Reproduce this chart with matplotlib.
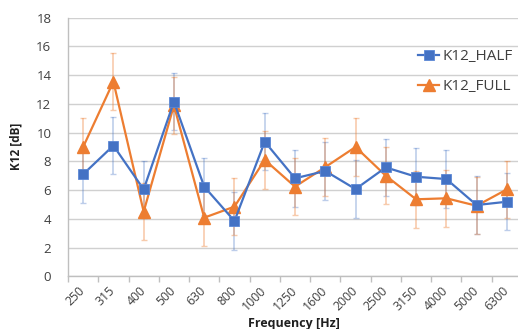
import matplotlib
matplotlib.use("Agg")
import matplotlib.pyplot as plt
import numpy as np

plt.rcParams['font.family'] = ['Open Sans', 'DejaVu Sans']

categories = ["250", "315", "400", "500", "630", "800", "1000", "1250", "1600",
              "2000", "2500", "3150", "4000", "5000", "6300"]
half_vals = [7.1, 9.1, 6.05, 12.15, 6.24, 3.85, 9.37, 6.82, 7.33, 6.07, 7.58, 6.93, 6.77, 4.96, 5.19]
full_vals = [9.0, 13.55, 4.5, 11.9, 4.08, 4.85, 8.1, 6.24, 7.6, 9.0, 7.0, 5.36, 5.43, 4.91, 6.05]
half_err = [2.0] * 15
full_err = [2.0] * 15

blue = '#4472C4'
orange = '#ED7D31'

fig = plt.figure(figsize=(5.18, 3.29), dpi=100)
ax = fig.add_axes([68/518, 1 - 276.3/329, (522-68)/518, (276.3-17.7)/329])

x = np.arange(len(categories))

# error bars
ax.errorbar(x, half_vals, yerr=half_err, fmt='none', ecolor=blue, alpha=0.35,
            elinewidth=1.2, capsize=2.5, capthick=1.0, zorder=2)
ax.errorbar(x, full_vals, yerr=full_err, fmt='none', ecolor=orange, alpha=0.4,
            elinewidth=1.2, capsize=2.5, capthick=1.0, zorder=2)

ax.plot(x, half_vals, color=blue, lw=1.6, marker='s', markersize=7,
        markeredgecolor='#5B87D6', markeredgewidth=0.6, label='K12_HALF', zorder=4)
ax.plot(x, full_vals, color=orange, lw=1.6, marker='^', markersize=8,
        markeredgecolor=orange, label='K12_FULL', zorder=3)

ax.set_xlim(-0.5, len(categories) - 0.5)
ax.set_ylim(0, 18)
ax.set_yticks(np.arange(0, 19, 2))
ax.yaxis.grid(True, color='#D0D0D0', lw=1.0)
ax.set_axisbelow(True)

for s in ['top', 'right']:
    ax.spines[s].set_visible(False)
for s in ['left', 'bottom']:
    ax.spines[s].set_color('#BFBFBF')
    ax.spines[s].set_linewidth(1.0)

# x tick marks between categories, labels at centers
ax.set_xticks(np.arange(-0.5, len(categories), 1.0))
ax.set_xticklabels([])
ax.set_xticks(x, minor=True)
ax.set_xticklabels(categories, minor=True, rotation=45, ha='right', va='center',
                   rotation_mode='anchor', fontsize=8.8, color='#404040')
ax.tick_params(axis='x', which='major', length=4, color='#BFBFBF', width=1.0)
ax.tick_params(axis='x', which='minor', length=0, pad=9)
ax.tick_params(axis='y', length=0, labelsize=9.5, labelcolor='#404040', pad=12)

fig.text(294/518, 1 - 323/329, 'Frequency [Hz]', ha='center', va='center',
         fontsize=9, fontweight='bold', color='#202020')
fig.text(16/518, 1 - 146/329, 'K12 [dB]', ha='center', va='center', rotation=90,
         fontsize=8.5, fontweight='bold', color='#202020')

leg = ax.legend(loc='upper left', bbox_to_anchor=(418/518, 1 - 49/329),
                bbox_transform=fig.transFigure, frameon=False, fontsize=11,
                handlelength=1.4, handletextpad=0.2, labelspacing=1.0,
                borderaxespad=0, borderpad=0)
for t in leg.get_texts():
    t.set_color('#404040')

fig.savefig('out.png', dpi=100)
